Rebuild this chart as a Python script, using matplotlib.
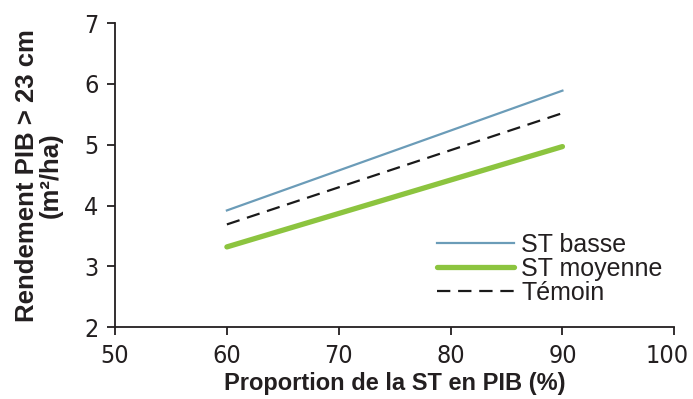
import matplotlib
matplotlib.use("Agg")
import matplotlib.pyplot as plt
from matplotlib.transforms import ScaledTranslation

# valeurs
proportion = [60, 90]
st_basse = [3.92, 5.89]
st_moyenne = [3.32, 4.97]
temoin = [3.69, 5.52]

plt.rcParams['font.family'] = ['Liberation Sans', 'DejaVu Sans']

fig = plt.figure(figsize=(6.93, 3.99), dpi=100)
ax = fig.add_axes([0.166, 0.18, 0.807, 0.762])

ax.plot(proportion, st_basse, color='#6b9cb8', lw=1.6, label='ST basse')
ax.plot(proportion, st_moyenne, color='#8cc43f', lw=3.8, solid_capstyle='round', label='ST moyenne')
ax.plot(proportion, temoin, color='#1a1a1a', lw=1.6, ls=(0, (6, 3.5)), label='Témoin')

ax.set_xlim(50, 100)
ax.set_ylim(2, 7)
ax.set_xticks([50, 60, 70, 80, 90, 100])
ax.set_yticks([2, 3, 4, 5, 6, 7])

for s in ['top', 'right']:
    ax.spines[s].set_visible(False)
for s in ['left', 'bottom']:
    ax.spines[s].set_linewidth(1.3)
    ax.spines[s].set_color('#231f20')

ax.tick_params(axis='both', direction='out', length=6, width=1.3, colors='#231f20', pad=6)
for lab in ax.get_xticklabels() + ax.get_yticklabels():
    lab.set_family('DejaVu Sans')
    lab.set_fontstretch('condensed')
    lab.set_fontsize(18)

# le "100" est un peu décalé vers la gauche dans l'original
last = ax.xaxis.get_major_ticks()[-1].label1
last.set_transform(last.get_transform() + ScaledTranslation(-0.07, 0, fig.dpi_scale_trans))

ax.set_xlabel('Proportion de la ST en PIB (%)', fontsize=17, fontweight='bold',
              color='#231f20', labelpad=3)
ax.set_ylabel('Rendement PIB > 23 cm\n(m²/ha)', fontsize=18.5, fontweight='bold',
              color='#231f20', labelpad=15, linespacing=1.0)

leg = ax.legend(loc='upper left', bbox_to_anchor=(0.575, 0.31), frameon=False, fontsize=18,
                handlelength=3.1, labelspacing=0.0, handletextpad=0.28, borderpad=0,
                borderaxespad=0)
for t in leg.get_texts():
    t.set_color('#231f20')

fig.savefig('out.png', dpi=100)
